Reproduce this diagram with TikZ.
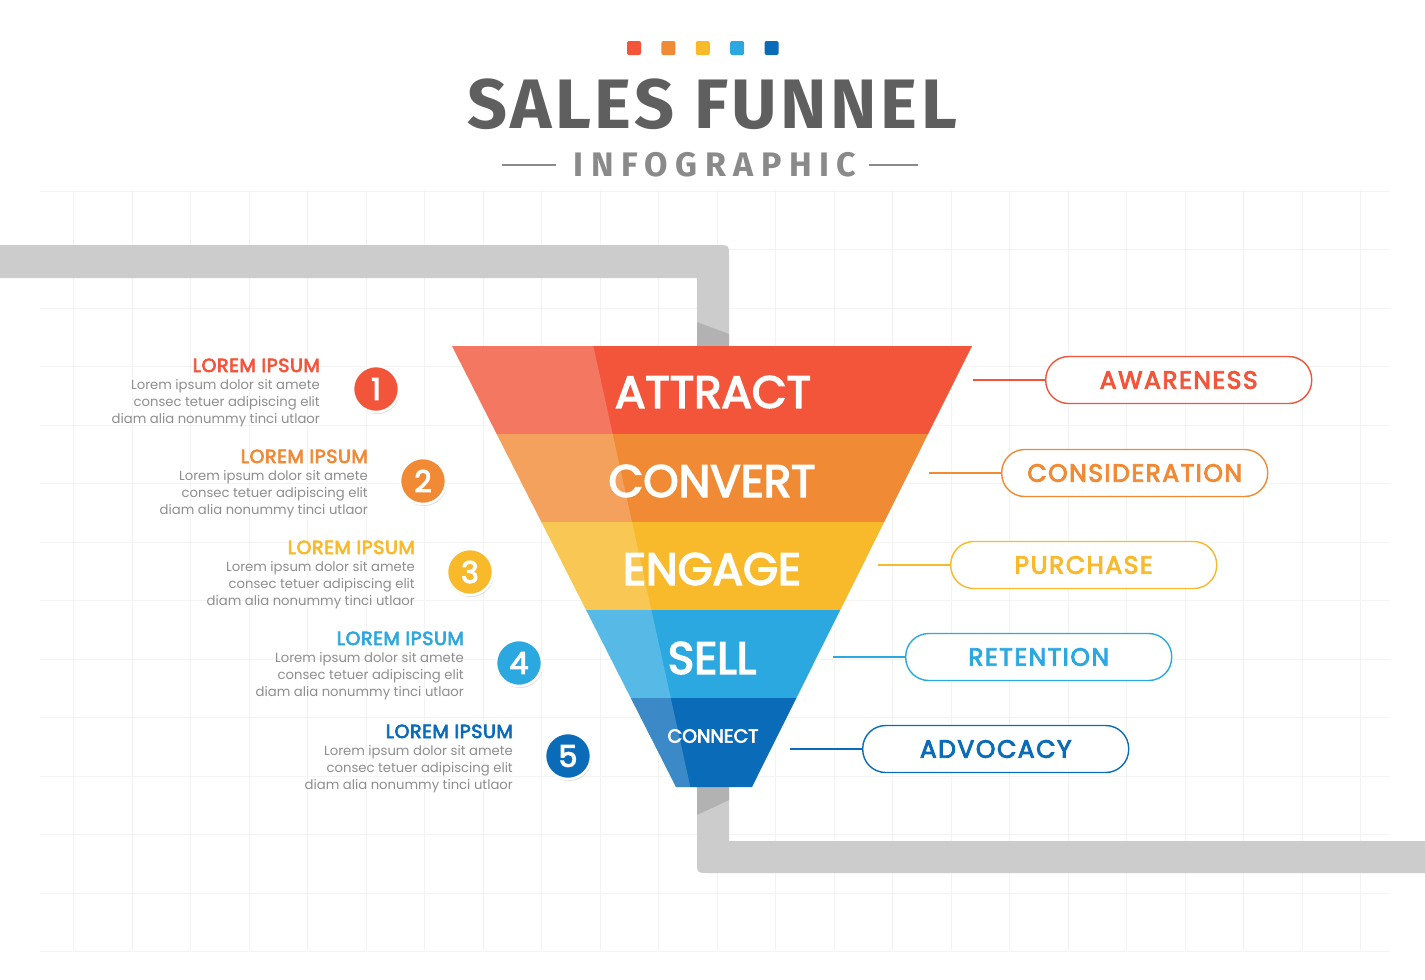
\documentclass[tikz,border=0pt]{standalone}
\usepackage{fontspec}
\setmainfont{Poppins}
\newfontfamily\titlefont{Fira Sans}
\newfontfamily\midfont{Poppins}[FakeBold=3.5]
\usetikzlibrary{positioning,shadows}
\definecolor{fred}{HTML}{F2553A}
\definecolor{forange}{HTML}{F08A34}
\definecolor{fyellow}{HTML}{F8B92A}
\definecolor{fblue}{HTML}{2CA8E0}
\definecolor{fnavy}{HTML}{0A6CB8}
\definecolor{pipe}{HTML}{CCCCCC}
\definecolor{pipedark}{HTML}{B2B2B2}
\definecolor{titlegray}{HTML}{5F5F5F}
\definecolor{subgray}{HTML}{8A8A8A}
\definecolor{bodygray}{HTML}{8E8E8E}
\definecolor{gridgray}{HTML}{F3F3F3}

\begin{document}
\begin{tikzpicture}[x=1pt,y=-1pt,
  band/.style={text=white,font=\midfont\fontsize{45}{45}\selectfont},
  num/.style={circle,minimum size=46pt,inner sep=0pt,draw=white,line width=2.5pt,text=white,
    font=\midfont\fontsize{30}{30}\selectfont,drop shadow={shadow xshift=1pt,shadow yshift=-2pt,opacity=0.25}},
  head/.style={inner sep=0pt,font=\midfont\fontsize{19}{19}\selectfont\addfontfeatures{LetterSpace=3}},
  body/.style={inner sep=0pt,align=right,text=bodygray,font=\fontsize{13.2}{17}\selectfont},
  pill/.style={draw,line width=1.4pt,fill=white,rounded corners=23pt,minimum width=266pt,
    minimum height=47pt,font=\midfont\fontsize{25}{25}\selectfont\addfontfeatures{LetterSpace=6}},
  link/.style={line width=1.4pt},
  gridline/.style={gridgray,line width=0.8pt},
  dot/.style={minimum size=14pt,inner sep=0pt,rounded corners=2pt}
]
\useasboundingbox[fill=white] (0,0) rectangle (1425,980);
\foreach \gx in {73.5,132,...,1370} \draw[gridline] (\gx,190) -- (\gx,950);
\foreach \gy in {191,249.5,...,952} \draw[gridline] (40,\gy) -- (1390,\gy);

\fill[pipe] (0,245) -- (717,245) .. controls (729,245) .. (729,257) -- (729,400) -- (697,400) -- (697,278) -- (0,278) -- cycle;
\fill[pipedark] (697,322) -- (729,334) -- (729,400) -- (697,400) -- cycle;
\fill[pipe] (697,760) -- (729,760) -- (729,841) -- (1425,841) -- (1425,873) -- (709,873) .. controls (697,873) .. (697,861) -- cycle;
\fill[pipedark] (697,760) -- (729,760) -- (729,800) -- (697,815) -- cycle;

\fill[fred] (452,346) -- (972,346) -- (928.1,434) -- (496.7,434) -- cycle;
\fill[forange] (496.7,434) -- (928.1,434) -- (884.2,522) -- (541.4,522) -- cycle;
\fill[fyellow] (541.4,522) -- (884.2,522) -- (840.3,610) -- (586.1,610) -- cycle;
\fill[fblue] (586.1,610) -- (840.3,610) -- (796.4,698) -- (630.8,698) -- cycle;
\fill[fnavy] (630.8,698) -- (796.4,698) -- (752,787) -- (676,787) -- cycle;
\begin{scope}
\clip (452,346) -- (972,346) -- (752,787) -- (676,787) -- cycle;
\fill[white,opacity=0.2] (440,340) -- (592,340) -- (691,790) -- (440,790) -- cycle;
\end{scope}

\node[band] (attract) at (713,392) {ATTRACT};
\node[band] (convert) at (712,481) {CONVERT};
\node[band] (engage) at (712,569) {ENGAGE};
\node[band] (sell) at (712,658) {SELL};
\node[band,font=\midfont\fontsize{19}{19}\selectfont] (connect) at (713,736) {CONNECT};

\node[text=titlegray,font=\titlefont\bfseries\fontsize{70}{70}\selectfont\addfontfeatures{LetterSpace=5},anchor=base] (title) at (712,128) {SALES FUNNEL};
\node[text=subgray,font=\titlefont\bfseries\fontsize{34}{34}\selectfont\addfontfeatures{LetterSpace=22},anchor=base] (info) at (715,176) {INFOGRAPHIC};
\draw[subgray,line width=1.5pt] ([xshift=-14pt,yshift=-1pt]info.west) -- ++(-54,0);
\draw[subgray,line width=1.5pt] ([xshift=9pt,yshift=-1pt]info.east) -- ++(49,0);
\node[dot,fill=fred] (d1) at (634,48) {};
\node[dot,fill=forange,right=20pt of d1] (d2) {};
\node[dot,fill=fyellow,right=20pt of d2] (d3) {};
\node[dot,fill=fblue,right=20pt of d3] (d4) {};
\node[dot,fill=fnavy,right=20pt of d4] (d5) {};

\node[num,fill=fred] (n1) at (376,389) {1};
\node[num,fill=forange] (n2) at (423,481) {2};
\node[num,fill=fyellow] (n3) at (470,572) {3};
\node[num,fill=fblue] (n4) at (519,663) {4};
\node[num,fill=fnavy] (n5) at (568,756) {5};

\node[head,text=fred,anchor=base east] (h1) at (320,372) {LOREM IPSUM};
\node[body,anchor=north east] (b1) at ([yshift=-7pt]h1.south east) {Lorem ipsum dolor sit amete\\consec tetuer adipiscing elit\\diam alia nonummy tinci utlaor};
\node[head,text=forange,anchor=base east] (h2) at (368,463) {LOREM IPSUM};
\node[body,anchor=north east] (b2) at ([yshift=-7pt]h2.south east) {Lorem ipsum dolor sit amete\\consec tetuer adipiscing elit\\diam alia nonummy tinci utlaor};
\node[head,text=fyellow,anchor=base east] (h3) at (415,554) {LOREM IPSUM};
\node[body,anchor=north east] (b3) at ([yshift=-7pt]h3.south east) {Lorem ipsum dolor sit amete\\consec tetuer adipiscing elit\\diam alia nonummy tinci utlaor};
\node[head,text=fblue,anchor=base east] (h4) at (464,645) {LOREM IPSUM};
\node[body,anchor=north east] (b4) at ([yshift=-7pt]h4.south east) {Lorem ipsum dolor sit amete\\consec tetuer adipiscing elit\\diam alia nonummy tinci utlaor};
\node[head,text=fnavy,anchor=base east] (h5) at (513,738) {LOREM IPSUM};
\node[body,anchor=north east] (b5) at ([yshift=-7pt]h5.south east) {Lorem ipsum dolor sit amete\\consec tetuer adipiscing elit\\diam alia nonummy tinci utlaor};

\coordinate (l1) at (973,380);
\coordinate (l2) at (929,473);
\coordinate (l3) at (878,565);
\coordinate (l4) at (833,657);
\coordinate (l5) at (790,749);
\node[pill,draw=fred,text=fred,right=72pt of l1] (aware) {AWARENESS};
\node[pill,draw=forange,text=forange,right=72pt of l2] (consider) {CONSIDERATION};
\node[pill,draw=fyellow,text=fyellow,right=72pt of l3] (purchase) {PURCHASE};
\node[pill,draw=fblue,text=fblue,right=72pt of l4] (retain) {RETENTION};
\node[pill,draw=fnavy,text=fnavy,right=72pt of l5] (advocacy) {ADVOCACY};
\draw[link,fred] (l1) -- (aware);
\draw[link,forange] (l2) -- (consider);
\draw[link,fyellow] (l3) -- (purchase);
\draw[link,fblue] (l4) -- (retain);
\draw[link,fnavy] (l5) -- (advocacy);
\end{tikzpicture}
\end{document}
